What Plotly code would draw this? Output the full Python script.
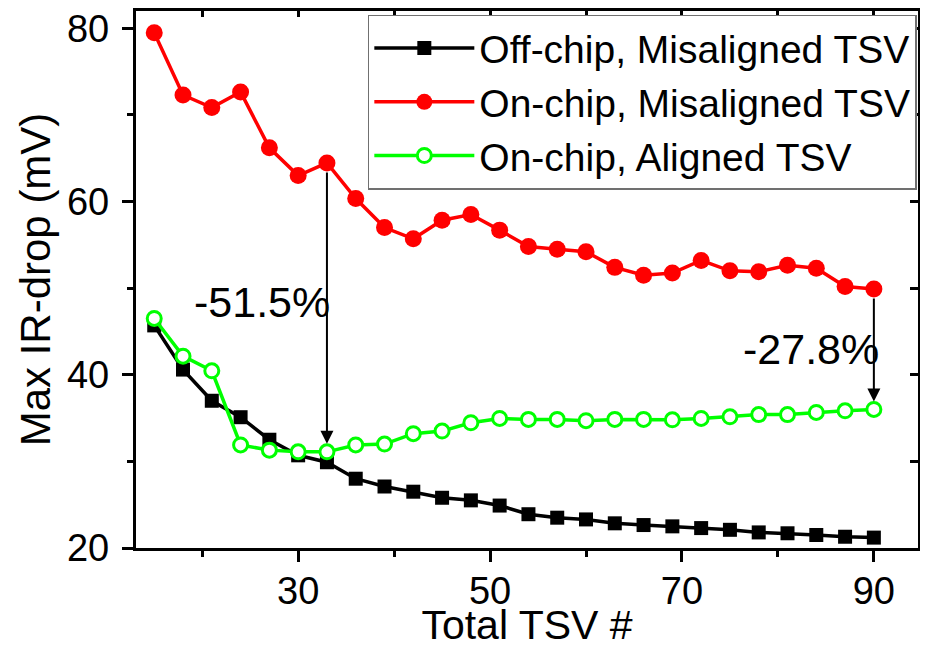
import plotly.graph_objects as go

tsv = [15, 18, 21, 24, 27, 30, 33, 36, 39, 42, 45, 48, 51, 54, 57, 60, 63, 66, 69, 72, 75, 78, 81, 84, 87, 90]
off_mis = [45.7, 40.6, 37.0, 35.1, 32.5, 30.7, 29.9, 28.0, 27.1, 26.5, 25.8, 25.5, 24.9, 23.9, 23.5, 23.3,
           22.85, 22.65, 22.5, 22.3, 22.1, 21.8, 21.7, 21.5, 21.3, 21.2]
on_mis = [79.5, 72.3, 70.85, 72.65, 66.2, 63.0, 64.46, 60.35, 57.0, 55.7, 57.85, 58.5, 56.7, 54.8, 54.5, 54.2,
          52.4, 51.5, 51.75, 53.2, 52.0, 51.9, 52.65, 52.3, 50.2, 49.9]
on_ali = [46.5, 42.15, 40.46, 31.9, 31.3, 31.1, 31.1, 31.9, 32.0, 33.2, 33.5, 34.46, 34.96, 34.85, 34.85, 34.7,
          34.85, 34.85, 34.8, 34.96, 35.15, 35.4, 35.4, 35.65, 35.84, 36.0]

names = ["Off-chip, Misaligned TSV", "On-chip, Misaligned TSV", "On-chip, Aligned TSV"]
x_range = [13.1, 94.6]
y_range = [20, 82]

FONT = "Arial, Liberation Sans, sans-serif"

fig = go.Figure()
fig.add_trace(go.Scatter(x=tsv, y=off_mis, name=names[0], mode="lines+markers",
                         line=dict(color="black", width=3.5),
                         marker=dict(symbol="square", size=14, color="black")))
fig.add_trace(go.Scatter(x=tsv, y=on_mis, name=names[1], mode="lines+markers",
                         line=dict(color="#ff0000", width=3.5),
                         marker=dict(symbol="circle", size=17, color="#ff0000")))
fig.add_trace(go.Scatter(x=tsv, y=on_ali, name=names[2], mode="lines+markers",
                         line=dict(color="#00ff00", width=3.5),
                         marker=dict(symbol="circle", size=14, color="white",
                                     line=dict(color="#00ff00", width=3))))
# empty trace to activate mirrored axes with inside ticks
fig.add_trace(go.Scatter(x=[], y=[], xaxis="x2", yaxis="y2", showlegend=False, hoverinfo="skip"))

# arrows (from misaligned on-chip to aligned on-chip)
for xv, label, tx, ty in [(33, "-51.5%", 26.2, 48.4), (90, "-27.8%", 83.5, 43.0)]:
    i = tsv.index(xv)
    fig.add_annotation(x=xv, y=on_ali[i], ax=xv, ay=on_mis[i], xref="x", yref="y",
                       axref="x", ayref="y", showarrow=True, arrowhead=2, arrowsize=1.3,
                       arrowwidth=2, arrowcolor="black", standoff=8, startstandoff=8, text="")
    fig.add_annotation(x=tx, y=ty, xref="x", yref="y", text=label, showarrow=False,
                       font=dict(family=FONT, size=43, color="black"))

axis_common = dict(showgrid=False, zeroline=False, linecolor="black", linewidth=3.3,
                   tickcolor="black", tickwidth=3, tickfont=dict(family=FONT, size=38, color="black"),
                   automargin=False, ticklabeloverflow="allow")

fig.update_layout(
    width=920, height=640,
    margin=dict(l=128, r=10, t=3, b=100),
    plot_bgcolor="white", paper_bgcolor="white",
    font=dict(family=FONT, color="black"),
    xaxis=dict(range=x_range, tick0=30, dtick=20, ticks="outside", ticklen=11,
               minor=dict(dtick=10, ticklen=6, tickwidth=3, tickcolor="black", ticks="outside"),
               mirror=True, showline=True, ticklabelstandoff=-4,
               title=dict(text="Total TSV #", font=dict(family=FONT, size=41), standoff=4),
               **axis_common),
    yaxis=dict(range=y_range, tick0=20, dtick=20, ticks="outside", ticklen=11,
               minor=dict(dtick=10, ticklen=6, tickwidth=3, tickcolor="black", ticks="outside"),
               mirror=True, showline=True, ticklabelstandoff=5,
               title=dict(text="Max IR-drop (mV)", font=dict(family=FONT, size=42), standoff=4),
               **axis_common),
    xaxis2=dict(range=x_range, overlaying="x", side="top", tick0=10, dtick=10, ticks="inside",
                ticklen=6, tickwidth=3, tickcolor="black", showticklabels=False, showgrid=False,
                zeroline=False, showline=False),
    yaxis2=dict(range=y_range, overlaying="y", side="right", tick0=20, dtick=10, ticks="inside",
                ticklen=8, tickwidth=3, tickcolor="black", showticklabels=False, showgrid=False,
                zeroline=False, showline=False),
    legend=dict(x=0.9985, xanchor="right", y=0.993, yanchor="top", bgcolor="white",
                bordercolor="#707070", borderwidth=1.5, itemwidth=100,
                font=dict(family=FONT, size=39, color="black"), tracegroupgap=0),
    showlegend=True,
)

fig.write_html("out.html")
